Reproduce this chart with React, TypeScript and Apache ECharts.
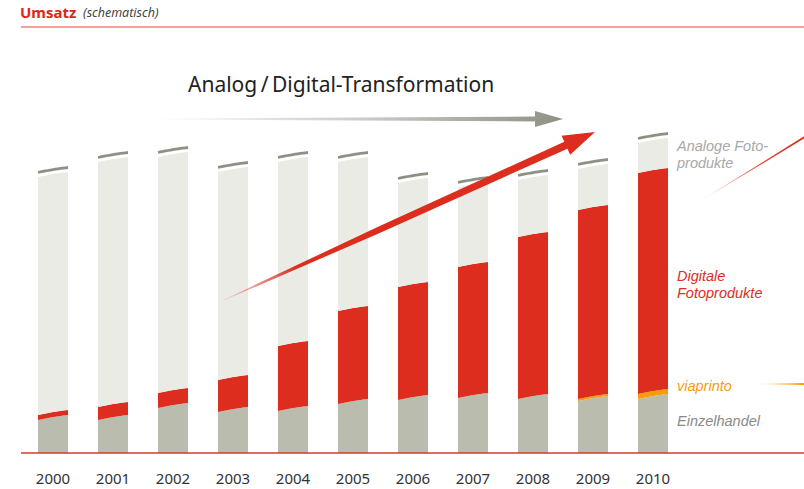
import React, { useEffect, useRef } from "react";
import * as echarts from "echarts";

const years = ["2000", "2001", "2002", "2003", "2004", "2005", "2006", "2007", "2008", "2009", "2010"];
const einzelhandel = [33, 33, 45, 41, 42, 49, 53, 55, 54, 52, 54];
const viaprinto = [0, 0, 0, 0, 0, 0, 0, 0, 0, 2, 5];
const digital = [5, 13, 15, 32, 65, 93, 113, 131, 162, 189, 221];
const analog = [238, 245, 236, 208, 184, 149, 104, 80, 57, 41, 30];

const layerNames = ["Einzelhandel", "viaprinto", "Digitale Fotoprodukte", "Analoge Fotoprodukte"];
const layerValues = [einzelhandel, viaprinto, digital, analog];
const layerColors = ["#babcae", "#f59c00", "#dc2d1e", "#ebebe5"];

const BW = 30;
const TILT = 5;
const FONT = "'Noto Sans', 'Open Sans', sans-serif";
const LABEL_FONT = "'Liberation Sans', Arial, sans-serif";

function curve(t: number) {
  return 0.6 * t + 0.4 * Math.sin((t * Math.PI) / 2);
}

function label(text: string, y: number, color: string) {
  return {
    type: "text",
    x: 677,
    y,
    z: 100,
    style: {
      text,
      fill: color,
      font: `italic 14.5px ${LABEL_FONT}`,
      lineHeight: 15,
      verticalAlign: "middle",
      align: "left",
    },
  };
}

export default function App() {
  const ref = useRef<HTMLDivElement>(null);
  useEffect(() => {
    if (!ref.current) return;
    const chart = echarts.init(ref.current, undefined, { renderer: "svg" });

    const cum = years.map(() => 0);
    const series: any[] = layerValues.map((vals, li) => {
      const data = vals.map((v, i) => {
        const b = cum[i];
        cum[i] = b + v;
        return [i, b, b + v];
      });
      return {
        type: "custom",
        name: layerNames[li],
        data,
        encode: { x: 0, y: 2 },
        renderItem: (params: any, api: any) => {
          const i = api.value(0);
          const b = api.value(1);
          const t = api.value(2);
          if (t - b <= 0) return null;
          const cx = api.coord([i, 0])[0];
          const x0 = cx - BW / 2;
          const yb = api.coord([i, b])[1];
          const yt = api.coord([i, t])[1];
          const N = 12;
          const pts: number[][] = [];
          for (let k = 0; k <= N; k++) {
            const s = k / N;
            pts.push([x0 + s * BW, yt - TILT * curve(s)]);
          }
          for (let k = N; k >= 0; k--) {
            const s = k / N;
            pts.push([x0 + s * BW, b === 0 ? yb : yb - TILT * curve(s)]);
          }
          return { type: "polygon", shape: { points: pts }, style: { fill: layerColors[li] } };
        },
      };
    });

    const totals = cum.map((v, i) => [i, v]);
    series.push({
      type: "custom",
      name: "cap",
      data: totals,
      encode: { x: 0, y: 1 },
      renderItem: (params: any, api: any) => {
        const i = api.value(0);
        const t = api.value(1);
        const cx = api.coord([i, 0])[0];
        const x0 = cx - BW / 2;
        const yt = api.coord([i, t])[1] - 4.5;
        const N = 12;
        const pts: number[][] = [];
        for (let k = 0; k <= N; k++) {
          const s = k / N;
          pts.push([x0 + s * BW, yt - TILT * curve(s)]);
        }
        return { type: "polyline", shape: { points: pts }, style: { stroke: "#8e9083", lineWidth: 2.8, fill: null } };
      },
    });

    // red arrow geometry
    const S = [224, 300];
    const tip = [595, 132];
    const dx = tip[0] - S[0], dy = tip[1] - S[1];
    const L = Math.sqrt(dx * dx + dy * dy);
    const u = [dx / L, dy / L];
    const n = [-u[1], u[0]];
    const B = [tip[0] - 32 * u[0], tip[1] - 32 * u[1]];
    const M = [S[0] + 0.45 * (B[0] - S[0]), S[1] + 0.45 * (B[1] - S[1])];
    const p = (base: number[], k: number) => [base[0] + k * n[0], base[1] + k * n[1]];
    const redArrow = [
      p(S, -0.4), p(M, -3.2), p(B, -3.8), p(B, -10.5), tip, p(B, 10.5), p(B, 3.8), p(M, 3.2), p(S, 0.4),
    ];

    chart.setOption({
      animation: false,
      grid: { left: 23, right: 121, top: 133, bottom: 36 },
      xAxis: {
        type: "category",
        data: years,
        axisLine: { show: false },
        axisTick: { show: false },
        axisLabel: { fontSize: 15, color: "#333", margin: 17, fontFamily: FONT },
      },
      yAxis: { type: "value", min: 0, max: 320, show: false, splitLine: { show: false } },
      series,
      graphic: {
        elements: [
          {
            type: "text",
            left: 20,
            top: 4,
            z: 100,
            style: { text: "Umsatz", fill: "#e2231a", font: `bold 15px ${FONT}` },
          },
          {
            type: "text",
            left: 83,
            top: 6,
            z: 100,
            style: { text: "(schematisch)", fill: "#444", font: `italic 12.5px ${FONT}` },
          },
          {
            type: "line",
            z: 100,
            shape: { x1: 21, y1: 27, x2: 804, y2: 27 },
            style: { stroke: "#e8857d", lineWidth: 1.5 },
          },
          {
            type: "line",
            z: 100,
            shape: { x1: 21, y1: 453, x2: 804, y2: 453 },
            style: { stroke: "#d8392b", lineWidth: 1.5 },
          },
          {
            type: "text",
            left: 188,
            top: 73,
            z: 100,
            style: { text: "Analog\u2009/\u2009Digital-Transformation", fill: "#222", font: `21px ${FONT}` },
          },
          {
            type: "polygon",
            z: 100,
            shape: {
              points: [[150, 118.6], [535, 116.5], [535, 111], [563, 119], [535, 127], [535, 121.5], [150, 119.4]],
            },
            style: {
              fill: new echarts.graphic.LinearGradient(0, 0, 1, 0, [
                { offset: 0, color: "rgba(143,145,133,0)" },
                { offset: 0.5, color: "rgba(143,145,133,0.45)" },
                { offset: 1, color: "#8e9182" },
              ]),
            },
          },
          {
            type: "polygon",
            z: 100,
            shape: { points: redArrow },
            style: {
              fill: new echarts.graphic.LinearGradient(0, 0, 1, 0, [
                { offset: 0, color: "rgba(220,45,30,0.15)" },
                { offset: 0.2, color: "#dc2d1e" },
                { offset: 1, color: "#dc2d1e" },
              ]),
            },
          },
          {
            type: "polygon",
            z: 100,
            shape: { points: [[697, 203], [804, 136.2], [804, 138.6]] },
            style: {
              fill: new echarts.graphic.LinearGradient(0, 0, 1, 0, [
                { offset: 0, color: "rgba(220,45,30,0)" },
                { offset: 0.6, color: "#e04a3c" },
                { offset: 1, color: "#dc2d1e" },
              ]),
            },
          },
          {
            type: "polygon",
            z: 100,
            shape: { points: [[752, 384], [804, 383], [804, 385]] },
            style: {
              fill: new echarts.graphic.LinearGradient(0, 0, 1, 0, [
                { offset: 0, color: "rgba(245,156,0,0)" },
                { offset: 1, color: "#f59c00" },
              ]),
            },
          },
          label("Analoge Foto-", 146, "#a8a8a8"),
          label("produkte", 163, "#a8a8a8"),
          label("Digitale", 276, "#dc2d1e"),
          label("Fotoprodukte", 293, "#dc2d1e"),
          label("viaprinto", 386, "#f39c12"),
          label("Einzelhandel", 421, "#8a8a8a"),
        ],
      },
    });
    return () => chart.dispose();
  }, []);
  return <div ref={ref} style={{ position: "absolute", left: 0, top: 0, width: 804, height: 489 }} />;
}
